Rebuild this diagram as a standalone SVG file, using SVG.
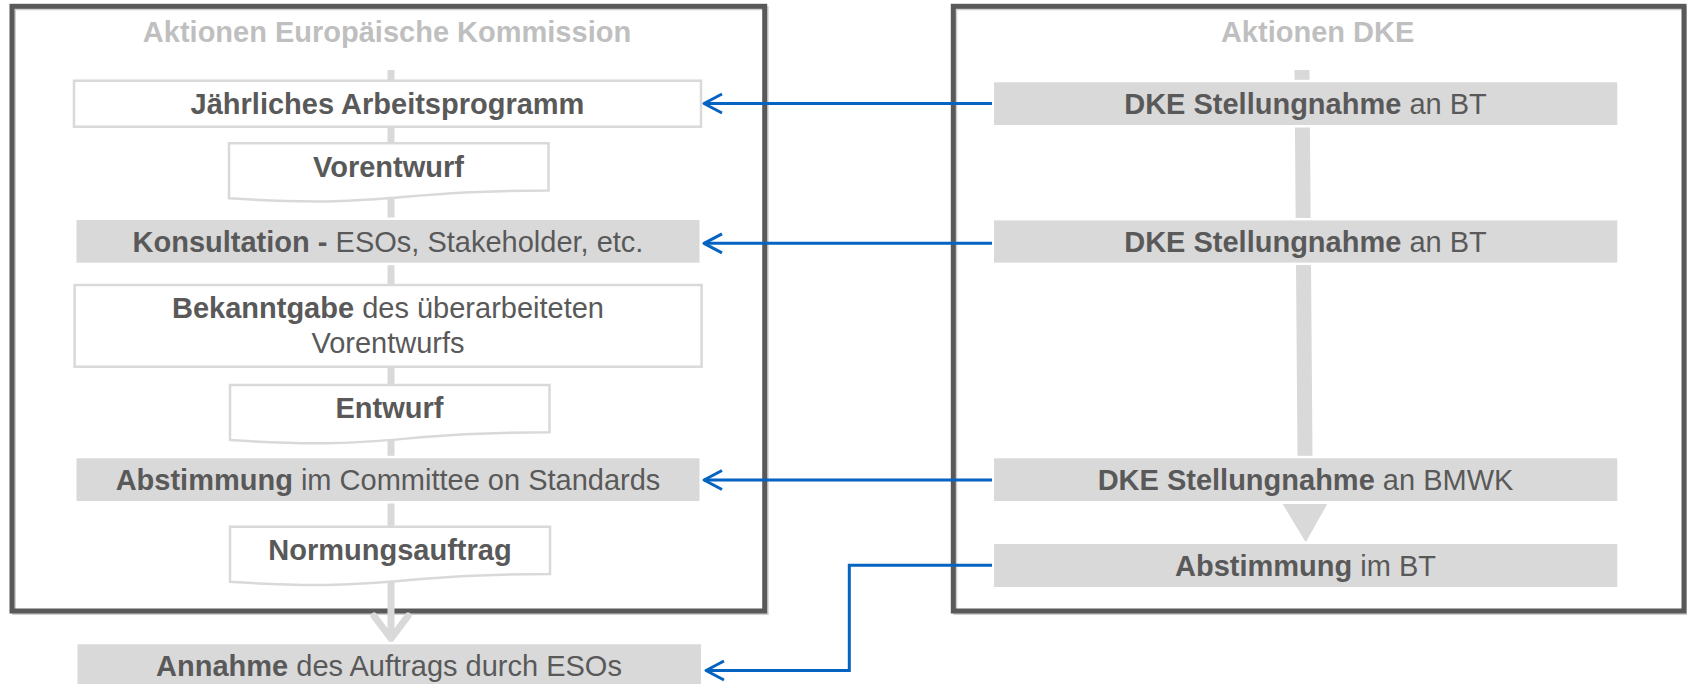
<svg xmlns="http://www.w3.org/2000/svg" width="1687" height="684" viewBox="0 0 1687 684">
<defs>
<style>
text{font-family:"Liberation Sans",Arial,sans-serif;font-size:29px;fill:#595959;text-anchor:middle}
.b{font-weight:bold}
.ttl{font-weight:bold;fill:#bfbfbf}
.frame{fill:none;stroke:#595959;stroke-width:5}
.shadow{fill:none;stroke:#d0d0d0;stroke-width:4}
.wbox{fill:#fff;stroke:#d9d9d9;stroke-width:2.5}
.gbox{fill:#d9d9d9;stroke:#fff;stroke-width:5;paint-order:stroke}
.flow{stroke:#d9d9d9;fill:none}
.conn{fill:none;stroke:#0563c1;stroke-width:3;marker-end:url(#arr)}
</style>
<marker id="arr" markerUnits="userSpaceOnUse" viewBox="-22 -13 26 26" markerWidth="26" markerHeight="26" refX="0" refY="0" orient="auto">
<path d="M-18,-9.5 L0,0 L-18,9.5" fill="none" stroke="#0563c1" stroke-width="3" stroke-linejoin="round"/>
</marker>
</defs>
<rect width="1687" height="684" fill="#fff"/>
<g id="frames">
<rect class="shadow" x="14" y="8.3" width="752.7" height="604.7"/>
<rect class="frame" x="12" y="6.3" width="752.7" height="604.7"/>
<rect class="shadow" x="955.3" y="8.3" width="730.7" height="604.7"/>
<rect class="frame" x="953.3" y="6.3" width="730.7" height="604.7"/>
<text class="ttl" x="387" y="41.7">Aktionen Europäische Kommission</text>
<text class="ttl" x="1317.6" y="41.7">Aktionen DKE</text>
</g>
<g id="flowlines">
<line class="flow" x1="391" y1="70" x2="391" y2="637" stroke-width="7"/>
<polyline class="flow" points="374,616 391,638.5 408,616" stroke-width="7" stroke-linecap="round" stroke-linejoin="miter"/>
<line class="flow" x1="1302" y1="70" x2="1305" y2="456" stroke-width="15"/>
<polygon points="1282.7,504 1327.3,504 1305.7,542.3" fill="#d9d9d9"/>
</g>
<g id="n1"><rect class="wbox" x="74" y="80.7" width="627" height="46"/><text class="b" x="387.5" y="114.3">Jährliches Arbeitsprogramm</text></g>
<g id="n2"><path class="wbox" d="M229,143.3 H548.5 V190.5 C388.5,190.5 388.5,208.6 229,198.3 Z"/><text class="b" x="388.5" y="177">Vorentwurf</text></g>
<g id="n3"><rect class="gbox" x="76.5" y="220" width="623" height="42.7"/><text x="388" y="251.5"><tspan class="b">Konsultation - </tspan>ESOs, Stakeholder, etc.</text></g>
<g id="n4"><rect class="wbox" x="74.6" y="285" width="627" height="81.7"/><text x="388" y="318.3"><tspan class="b">Bekanntgabe</tspan> des überarbeiteten</text><text x="388" y="353.3">Vorentwurfs</text></g>
<g id="n5"><path class="wbox" d="M230,385 H549.5 V432.3 C389.5,432.3 389.5,450.3 230,440.1 Z"/><text class="b" x="389.5" y="418.3">Entwurf</text></g>
<g id="n6"><rect class="gbox" x="76.5" y="458.3" width="623" height="42.7"/><text x="388" y="489.6"><tspan class="b">Abstimmung</tspan> im Committee on Standards</text></g>
<g id="n7"><path class="wbox" d="M230,526.7 H550 V574 C390,574 390,592 230,581.8 Z"/><text class="b" x="390" y="560">Normungsauftrag</text></g>
<g id="n8"><rect class="gbox" x="77.5" y="644.3" width="623.5" height="43"/><text x="389" y="675.8"><tspan class="b">Annahme</tspan> des Auftrags durch ESOs</text></g>
<g id="d1"><rect class="gbox" x="994" y="82.3" width="623.3" height="42.7"/><text x="1305.5" y="113.6"><tspan class="b">DKE Stellungnahme</tspan> an BT</text></g>
<g id="d2"><rect class="gbox" x="994" y="220.4" width="623.3" height="42.2"/><text x="1305.5" y="251.5"><tspan class="b">DKE Stellungnahme</tspan> an BT</text></g>
<g id="d3"><rect class="gbox" x="994" y="458.3" width="623.3" height="42.7"/><text x="1305.5" y="489.6"><tspan class="b">DKE Stellungnahme</tspan> an BMWK</text></g>
<g id="d4"><rect class="gbox" x="994" y="544" width="623.3" height="43"/><text x="1305.5" y="575.5"><tspan class="b">Abstimmung</tspan> im BT</text></g>
<g id="connectors">
<path class="conn" d="M992,103.5 H704"/>
<path class="conn" d="M992,243.3 H704"/>
<path class="conn" d="M992,480 H704"/>
<path class="conn" d="M992,565.3 H849.3 V670.5 H706"/>
</g>
</svg>
